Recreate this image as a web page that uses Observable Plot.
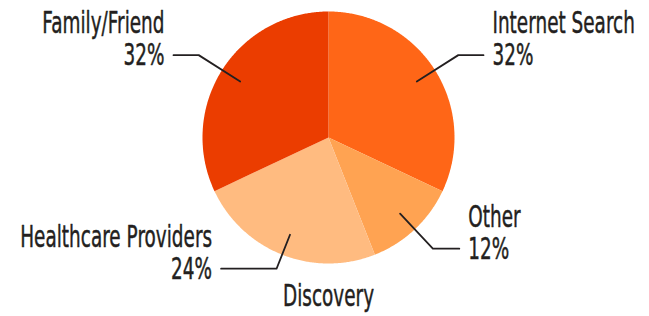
<!DOCTYPE html>
<html>
<head>
<meta charset="utf-8">
<script src="https://cdn.jsdelivr.net/npm/d3@7"></script>
<script src="https://cdn.jsdelivr.net/npm/@observablehq/plot@0.6"></script>
<style>
  html, body { margin: 0; padding: 0; background: #fff; }
  #chart svg { display: block; }
</style>
</head>
<body>
<div id="chart"></div>
<script>
// Data (clockwise from 12 o'clock)
const categories = ["Internet Search", "Other", "Discovery", "Healthcare Providers", "Family/Friend"];
const shares = [32, 12, 0, 24, 32];
const colors = ["#FF6617", "#FFA352", "#FFD2A8", "#FFBB80", "#EB3D00"];

// Label layout (radius units: pie radius = 1)
const elbowRadius = [1.22, 1.21, 0, 1.12, 1.22];
const tailLength = [0.2, 0.21, 0, 0.44, 0.2];

const W = 649, H = 316, CX = 328, CY = 137, R = 126;
const textSquash = 0.595; // horizontal condensing of the label font

const pie = d3.pie().sort(null).value(d => d)(shares);

// slice polygons
const slicePts = [];
pie.forEach((p, i) => {
  if (p.endAngle - p.startAngle <= 0) return;
  slicePts.push({key: categories[i], x: 0, y: 0});
  const n = Math.max(2, Math.ceil((p.endAngle - p.startAngle) / (Math.PI / 360)));
  for (let k = 0; k <= n; k++) {
    const a = p.startAngle + (p.endAngle - p.startAngle) * k / n;
    slicePts.push({key: categories[i], x: Math.sin(a), y: Math.cos(a)});
  }
});

// leaders and labels
const leaderPts = [];
const labels = [];
pie.forEach((p, i) => {
  const mid = (p.startAngle + p.endAngle) / 2;
  if (shares[i] > 0) {
    const ex = elbowRadius[i] * Math.sin(mid), ey = elbowRadius[i] * Math.cos(mid);
    const side = Math.sin(mid) >= 0 ? 1 : -1;
    const tx = ex + side * tailLength[i];
    leaderPts.push({key: categories[i], x: 0.83 * Math.sin(mid), y: 0.83 * Math.cos(mid)});
    leaderPts.push({key: categories[i], x: ex, y: ey});
    leaderPts.push({key: categories[i], x: tx, y: ey});
    labels.push({x: tx, y: ey, side, text: categories[i] + "\n" + shares[i] + "%"});
  } else {
    labels.push({x: 0, y: -(305 - CY) / R, side: 0, text: categories[i]});
  }
});

const font = "'DejaVu Sans', sans-serif";
const textOpts = {x: "x", y: "y", text: "text", fontSize: 31, fontFamily: font, fill: "#231f20",
  stroke: "#231f20", strokeWidth: 0.5, lineAnchor: "bottom", lineHeight: 1.032};

const chart = Plot.plot({
  width: W, height: H,
  margin: 0,
  x: {axis: null, domain: [-CX / R, (W - CX) / R]},
  y: {axis: null, domain: [-(H - CY) / R, CY / R]},
  color: {domain: categories, range: colors},
  marks: [
    Plot.line(slicePts, {x: "x", y: "y", z: "key", fill: "key", stroke: "none", curve: "linear-closed"}),
    Plot.line(leaderPts, {x: "x", y: "y", z: "key", stroke: "#231f20", strokeWidth: 1.8}),
    Plot.text(labels.filter(d => d.side > 0), {...textOpts, textAnchor: "start", dx: 9, dy: 10}),
    Plot.text(labels.filter(d => d.side < 0), {...textOpts, textAnchor: "end", dx: -9, dy: 10}),
    Plot.text(labels.filter(d => d.side === 0), {...textOpts, textAnchor: "middle"})
  ]
});
// condense label glyphs horizontally around each text's anchor
d3.select(chart).selectAll("g[aria-label='text'] text").each(function () {
  const t = this.getAttribute("transform") || "";
  this.setAttribute("transform", t + ` scale(${textSquash},1)`);
});
document.getElementById("chart").append(chart);
</script>
</body>
</html>
